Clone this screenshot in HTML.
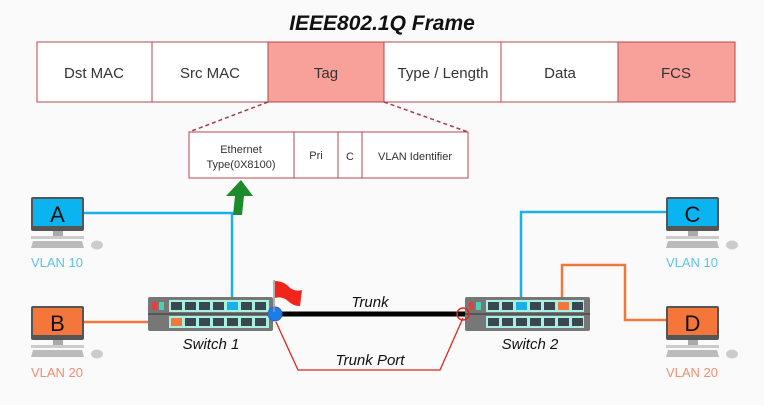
<!DOCTYPE html>
<html><head><style>body{margin:0;background:#fafafa}svg{display:block}text{font-family:"Liberation Sans",sans-serif}</style></head><body>
<svg width="764" height="405" viewBox="0 0 764 405" xmlns="http://www.w3.org/2000/svg">
<rect width="764" height="405" fill="#fafafa"/>
<text x="382" y="30" text-anchor="middle" font-size="21" font-style="italic" font-weight="bold" fill="#111">IEEE802.1Q Frame</text>
<g stroke="#b5484d" stroke-width="1" fill="#fff">
<rect x="37" y="42" width="698" height="60"/>
<rect x="268" y="42" width="116" height="60" fill="#f8a09a"/>
<rect x="618" y="42" width="117" height="60" fill="#f8a09a"/>
<line x1="152" y1="42" x2="152" y2="102"/><line x1="501" y1="42" x2="501" y2="102"/>
</g>
<g font-size="15" fill="#333" text-anchor="middle">
<text x="94" y="78">Dst MAC</text><text x="210" y="78">Src MAC</text><text x="326" y="78">Tag</text>
<text x="443" y="78">Type / Length</text><text x="560" y="78">Data</text><text x="676" y="78">FCS</text></g>
<g stroke="#a83a40" stroke-dasharray="4,3" stroke-width="1.5"><line x1="268" y1="102" x2="189" y2="132"/><line x1="384" y1="102" x2="468" y2="132"/></g>
<g stroke="#b5484d" fill="#fff"><rect x="189" y="132" width="279" height="46"/>
<line x1="294" y1="132" x2="294" y2="178"/><line x1="338" y1="132" x2="338" y2="178"/><line x1="362" y1="132" x2="362" y2="178"/></g>
<g font-size="11" fill="#333" text-anchor="middle">
<text x="241" y="153">Ethernet</text><text x="241" y="168">Type(0X8100)</text>
<text x="316" y="159">Pri</text><text x="350" y="160">C</text><text x="415" y="160">VLAN Identifier</text></g>
<g fill="none" stroke-width="2.5">
<polyline points="83,213 232,213 232,306" stroke="#1ab0e8"/>
<polyline points="83,322 178,322" stroke="#f4763a"/>
<polyline points="667,212 521,212 521,306" stroke="#1ab0e8"/>
<polyline points="667,320 625,320 625,265 562,265 562,306" stroke="#f4763a"/>
</g>
<polygon points="226,196 235,196 233,215 242,215 244,196 253,196 241,180" fill="#1d8a2e"/>
<line x1="276" y1="314" x2="465" y2="314" stroke="#000" stroke-width="5"/>
<polyline points="276,322 298,370 440,370 463,318" fill="none" stroke="#e0251a" stroke-width="1.3"/>
<text x="370" y="307" font-size="15" font-style="italic" text-anchor="middle" fill="#111">Trunk</text>
<text x="370" y="365" font-size="15" font-style="italic" text-anchor="middle" fill="#111">Trunk Port</text>
<g>
<rect x="148" y="297" width="125" height="34" rx="2" fill="#777"/>
<rect x="148" y="313" width="125" height="2" fill="#555"/>
<rect x="152" y="302" width="5" height="8" fill="#e04040"/><rect x="159" y="302" width="5" height="8" fill="#4ccfb0"/>
<rect x="169" y="300" width="100" height="12" fill="#a8f0e0"/><rect x="169" y="316" width="100" height="12" fill="#a8f0e0"/>
<g fill="#3a4650">
<rect x="171" y="302" width="11" height="8"/><rect x="185" y="302" width="11" height="8"/><rect x="199" y="302" width="11" height="8"/><rect x="213" y="302" width="11" height="8"/><rect x="227" y="302" width="11" height="8" fill="#1ab0e8"/><rect x="241" y="302" width="11" height="8"/><rect x="255" y="302" width="11" height="8"/>
<rect x="171" y="318" width="11" height="8" fill="#f4763a"/><rect x="185" y="318" width="11" height="8"/><rect x="199" y="318" width="11" height="8"/><rect x="213" y="318" width="11" height="8"/><rect x="227" y="318" width="11" height="8"/><rect x="241" y="318" width="11" height="8"/><rect x="255" y="318" width="11" height="8"/>
</g></g>
<g>
<rect x="465" y="297" width="125" height="34" rx="2" fill="#777"/>
<rect x="465" y="313" width="125" height="2" fill="#555"/>
<rect x="469" y="302" width="5" height="8" fill="#e04040"/><rect x="476" y="302" width="5" height="8" fill="#4ccfb0"/>
<rect x="486" y="300" width="98" height="12" fill="#a8f0e0"/><rect x="486" y="316" width="98" height="12" fill="#a8f0e0"/>
<g fill="#3a4650">
<rect x="488" y="302" width="11" height="8"/><rect x="502" y="302" width="11" height="8"/><rect x="516" y="302" width="11" height="8" fill="#1ab0e8"/><rect x="530" y="302" width="11" height="8"/><rect x="544" y="302" width="11" height="8"/><rect x="558" y="302" width="11" height="8" fill="#f4763a"/><rect x="572" y="302" width="11" height="8"/>
<rect x="488" y="318" width="11" height="8"/><rect x="502" y="318" width="11" height="8"/><rect x="516" y="318" width="11" height="8"/><rect x="530" y="318" width="11" height="8"/><rect x="544" y="318" width="11" height="8"/><rect x="558" y="318" width="11" height="8"/><rect x="572" y="318" width="11" height="8"/>
</g></g>
<circle cx="275" cy="314" r="7" fill="#1a7ee8" stroke="#3b5bc0"/>
<circle cx="463" cy="314" r="6" fill="none" stroke="#e0251a" stroke-width="1.5"/>
<line x1="274" y1="280" x2="274" y2="312" stroke="#999" stroke-width="1.5"/>
<path d="M275,281 Q284,281 290,288 Q296,292 302,290 L300,306 Q293,306 288,301 Q282,296 275,298 Z" fill="#f0241a"/>
<text x="211" y="349" font-size="15" font-style="italic" text-anchor="middle" fill="#111">Switch 1</text>
<text x="530" y="349" font-size="15" font-style="italic" text-anchor="middle" fill="#111">Switch 2</text>
<defs><g id="pc">
<rect x="0" y="0" width="53" height="34" rx="2" fill="#555"/>
<rect x="22" y="34" width="10" height="5" fill="#aaa"/>
<rect x="0" y="39" width="53" height="3" fill="#ccc"/>
<polygon points="2,44 51,44 53,51 0,51" fill="#bbb"/>
<ellipse cx="66" cy="48" rx="6" ry="4.5" fill="#ccc"/>
</g></defs>
<g transform="translate(31,197)"><use href="#pc"/><rect x="2" y="2" width="49" height="27" fill="#0ab4f0"/><text x="26.5" y="25" font-size="22" text-anchor="middle" fill="#111">A</text></g>
<g transform="translate(31,306)"><use href="#pc"/><rect x="2" y="2" width="49" height="27" fill="#f4763a"/><text x="26.5" y="25" font-size="22" text-anchor="middle" fill="#111">B</text></g>
<g transform="translate(666,197)"><use href="#pc"/><rect x="2" y="2" width="49" height="27" fill="#0ab4f0"/><text x="26.5" y="25" font-size="22" text-anchor="middle" fill="#111">C</text></g>
<g transform="translate(666,306)"><use href="#pc"/><rect x="2" y="2" width="49" height="27" fill="#f4763a"/><text x="26.5" y="25" font-size="22" text-anchor="middle" fill="#111">D</text></g>
<g font-size="13" text-anchor="middle">
<text x="57" y="267" fill="#5bc3e8">VLAN 10</text><text x="57" y="377" fill="#f09070">VLAN 20</text>
<text x="692" y="267" fill="#5bc3e8">VLAN 10</text><text x="692" y="377" fill="#f09070">VLAN 20</text></g>
</svg>
</body></html>
